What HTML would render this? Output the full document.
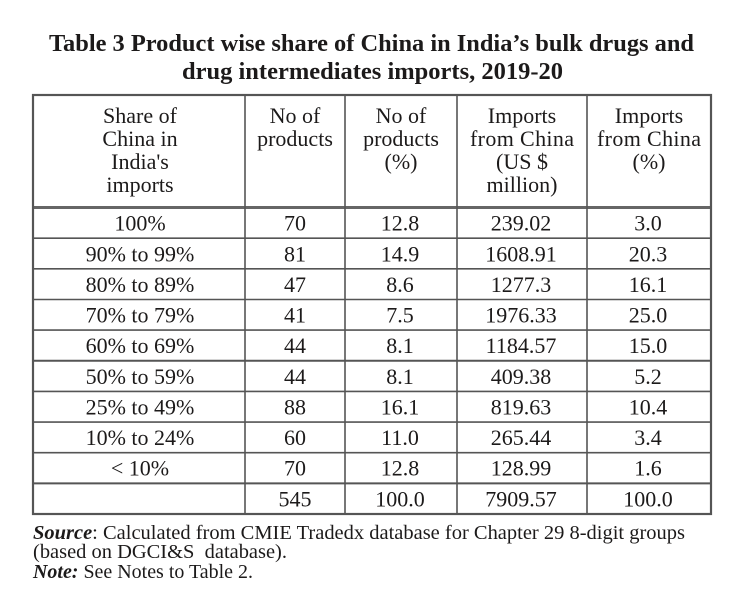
<!DOCTYPE html>
<html>
<head>
<meta charset="utf-8">
<style>
  html, body { margin:0; padding:0; background:#ffffff; }
  body { width:738px; height:605px; overflow:hidden; }
  svg { display:block; }
  text { font-family: "Liberation Serif", "Times New Roman", serif; fill:#1c1a1a; }
  .t { font-size:24px; font-weight:bold; }
  .h { font-size:22px; text-anchor:middle; }
  .c { font-size:22px; text-anchor:middle; }
  .f { font-size:20px; }
</style>
</head>
<body>
<svg width="738" height="605" viewBox="0 0 738 605" xmlns="http://www.w3.org/2000/svg">
  <rect x="0" y="0" width="738" height="605" fill="#ffffff"/>

  <!-- Title -->
  <text class="t" x="49" y="51" textLength="645" lengthAdjust="spacingAndGlyphs">Table 3 Product wise share of China in India’s bulk drugs and</text>
  <text class="t" x="182" y="79" textLength="381" lengthAdjust="spacingAndGlyphs">drug intermediates imports, 2019-20</text>

  <!-- Table grid -->
  <g stroke="#555555" fill="none">
    <line x1="33" y1="207.5" x2="711" y2="207.5" stroke-width="3" stroke="#666"/>
    <line x1="33" y1="238.2" x2="711" y2="238.2" stroke-width="1.6"/>
    <line x1="33" y1="268.8" x2="711" y2="268.8" stroke-width="1.6"/>
    <line x1="33" y1="299.5" x2="711" y2="299.5" stroke-width="1.6"/>
    <line x1="33" y1="330.1" x2="711" y2="330.1" stroke-width="1.6"/>
    <line x1="33" y1="360.8" x2="711" y2="360.8" stroke-width="2"/>
    <line x1="33" y1="391.4" x2="711" y2="391.4" stroke-width="1.6"/>
    <line x1="33" y1="422.1" x2="711" y2="422.1" stroke-width="1.6"/>
    <line x1="33" y1="452.7" x2="711" y2="452.7" stroke-width="1.6"/>
    <line x1="33" y1="483.4" x2="711" y2="483.4" stroke-width="2"/>
    <line x1="245" y1="95" x2="245" y2="514" stroke-width="1.6"/>
    <line x1="345" y1="95" x2="345" y2="514" stroke-width="1.6"/>
    <line x1="457" y1="95" x2="457" y2="514" stroke-width="1.6"/>
    <line x1="587" y1="95" x2="587" y2="514" stroke-width="1.6"/>
    <rect x="33" y="95" width="678" height="419" stroke-width="2.2"/>
  </g>

  <!-- Header -->
  <text class="h" x="140" y="123">Share of</text>
  <text class="h" x="140" y="146">China in</text>
  <text class="h" x="140" y="169">India's</text>
  <text class="h" x="140" y="192">imports</text>

  <text class="h" x="295" y="123">No of</text>
  <text class="h" x="295" y="146">products</text>

  <text class="h" x="401" y="123">No of</text>
  <text class="h" x="401" y="146">products</text>
  <text class="h" x="401" y="169">(%)</text>

  <text class="h" x="522" y="123">Imports</text>
  <text class="h" x="522" y="146" textLength="104" lengthAdjust="spacing">from China</text>
  <text class="h" x="522" y="169">(US $</text>
  <text class="h" x="522" y="192">million)</text>

  <text class="h" x="649" y="123">Imports</text>
  <text class="h" x="649" y="146" textLength="104" lengthAdjust="spacing">from China</text>
  <text class="h" x="649" y="169">(%)</text>

  <!-- Data rows -->
  <g>
    <text class="c" x="140" y="230.5">100%</text>
    <text class="c" x="295" y="230.5">70</text>
    <text class="c" x="400" y="230.5">12.8</text>
    <text class="c" x="521" y="230.5">239.02</text>
    <text class="c" x="648" y="230.5">3.0</text>

    <text class="c" x="140" y="261.5">90% to 99%</text>
    <text class="c" x="295" y="261.5">81</text>
    <text class="c" x="400" y="261.5">14.9</text>
    <text class="c" x="521" y="261.5">1608.91</text>
    <text class="c" x="648" y="261.5">20.3</text>

    <text class="c" x="140" y="292">80% to 89%</text>
    <text class="c" x="295" y="292">47</text>
    <text class="c" x="400" y="292">8.6</text>
    <text class="c" x="521" y="292">1277.3</text>
    <text class="c" x="648" y="292">16.1</text>

    <text class="c" x="140" y="322.5">70% to 79%</text>
    <text class="c" x="295" y="322.5">41</text>
    <text class="c" x="400" y="322.5">7.5</text>
    <text class="c" x="521" y="322.5">1976.33</text>
    <text class="c" x="648" y="322.5">25.0</text>

    <text class="c" x="140" y="353">60% to 69%</text>
    <text class="c" x="295" y="353">44</text>
    <text class="c" x="400" y="353">8.1</text>
    <text class="c" x="521" y="353">1184.57</text>
    <text class="c" x="648" y="353">15.0</text>

    <text class="c" x="140" y="384">50% to 59%</text>
    <text class="c" x="295" y="384">44</text>
    <text class="c" x="400" y="384">8.1</text>
    <text class="c" x="521" y="384">409.38</text>
    <text class="c" x="648" y="384">5.2</text>

    <text class="c" x="140" y="414.5">25% to 49%</text>
    <text class="c" x="295" y="414.5">88</text>
    <text class="c" x="400" y="414.5">16.1</text>
    <text class="c" x="521" y="414.5">819.63</text>
    <text class="c" x="648" y="414.5">10.4</text>

    <text class="c" x="140" y="445">10% to 24%</text>
    <text class="c" x="295" y="445">60</text>
    <text class="c" x="400" y="445">11.0</text>
    <text class="c" x="521" y="445">265.44</text>
    <text class="c" x="648" y="445">3.4</text>

    <text class="c" x="140" y="475.5">&lt; 10%</text>
    <text class="c" x="295" y="475.5">70</text>
    <text class="c" x="400" y="475.5">12.8</text>
    <text class="c" x="521" y="475.5">128.99</text>
    <text class="c" x="648" y="475.5">1.6</text>

    <text class="c" x="295" y="506.5">545</text>
    <text class="c" x="400" y="506.5">100.0</text>
    <text class="c" x="521" y="506.5">7909.57</text>
    <text class="c" x="648" y="506.5">100.0</text>
  </g>

  <!-- Footnotes -->
  <text class="f" x="33" y="539" textLength="652" lengthAdjust="spacingAndGlyphs"><tspan font-weight="bold" font-style="italic">Source</tspan>: Calculated from CMIE Tradedx database for Chapter 29 8-digit groups</text>
  <text class="f" x="33" y="558" textLength="254" lengthAdjust="spacingAndGlyphs">(based on DGCI&amp;S&#160; database).</text>
  <text class="f" x="33" y="578" textLength="220" lengthAdjust="spacingAndGlyphs"><tspan font-weight="bold" font-style="italic">Note:</tspan> See Notes to Table 2.</text>
</svg>
</body>
</html>
